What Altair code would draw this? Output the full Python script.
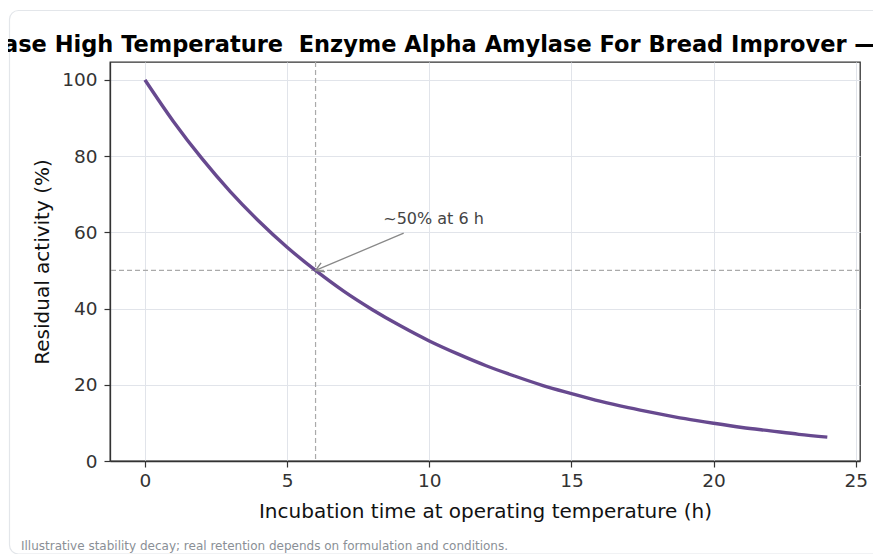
import altair as alt
import pandas as pd

hours = list(range(0, 25))
activity = [100, 89.1, 79.4, 70.7, 63.0, 56.1, 50, 44.5, 39.7, 35.4, 31.5, 28.1, 25, 22.3,
            19.8, 17.7, 15.7, 14, 12.5, 11.1, 9.9, 8.8, 7.9, 7.0, 6.25]

title_text = "ase High Temperature\u00a0 Enzyme Alpha Amylase For Bread Improver \u2014 r"
x_title = "Incubation time at operating temperature (h)"
y_title = "Residual activity (%)"
footnote = "Illustrative stability decay; real retention depends on formulation and conditions."
annot_text = ["~50% at 6 h"]
annot_x = [10.15]
annot_y = [63.5]
arrow_tail_x = [9.1]
arrow_tail_y = [59.8]
marker_x = [6]
marker_y = [50]

FONT = "DejaVu Sans"
df = pd.DataFrame({"t": hours, "a": activity})

xs = alt.Scale(domain=[-1.23, 25.15], nice=False, zero=False)
ys = alt.Scale(domain=[0, 104.7], nice=False, zero=False)

x_axis = alt.Axis(title=x_title, values=[0, 5, 10, 15, 20, 25], grid=True)
y_axis = alt.Axis(title=y_title, values=[0, 20, 40, 60, 80, 100], grid=True)

card = alt.Chart(pd.DataFrame({"k": [0]})).mark_rect(
    fill="transparent", stroke="#e3e6ea", strokeWidth=1.2, cornerRadius=9
).encode(x=alt.value(-100.5), x2=alt.value(820), y=alt.value(-51.5), y2=alt.value(492))

base_axes = alt.Chart(df).mark_line(opacity=0).encode(
    x=alt.X("t:Q", scale=xs, axis=x_axis),
    y=alt.Y("a:Q", scale=ys, axis=y_axis),
)

vline = alt.Chart(pd.DataFrame({"x": marker_x})).mark_rule(
    color="#aaaaaa", strokeDash=[5, 3], strokeWidth=1.2
).encode(x=alt.X("x:Q", scale=xs))
hline = alt.Chart(pd.DataFrame({"y": marker_y})).mark_rule(
    color="#aaaaaa", strokeDash=[5, 3], strokeWidth=1.2
).encode(y=alt.Y("y:Q", scale=ys))

curve = alt.Chart(df).mark_line(color="#67498f", strokeWidth=3.4, interpolate="monotone").encode(
    x=alt.X("t:Q", scale=xs), y=alt.Y("a:Q", scale=ys)
)

arrow_df = pd.DataFrame({"x1": arrow_tail_x, "y1": arrow_tail_y, "x2": marker_x, "y2": marker_y})
arrow_line = alt.Chart(arrow_df).mark_rule(color="#888888", strokeWidth=1.3).encode(
    x=alt.X("x1:Q", scale=xs), y=alt.Y("y1:Q", scale=ys),
    x2="x2:Q", y2="y2:Q",
)
arrow_head = alt.Chart(arrow_df).mark_point(
    shape="M-1,-0.6L0,0L-1,0.6", filled=False, stroke="#888888", strokeWidth=1.4,
    size=260, angle=157, opacity=1
).encode(x=alt.X("x2:Q", scale=xs), y=alt.Y("y2:Q", scale=ys))

annot = alt.Chart(pd.DataFrame({"x": annot_x, "y": annot_y, "s": annot_text})).mark_text(
    font=FONT, fontSize=16, color="#444444", align="center", baseline="middle"
).encode(x=alt.X("x:Q", scale=xs), y=alt.Y("y:Q", scale=ys), text="s:N")

title = alt.Chart(pd.DataFrame({"s": [title_text]})).mark_text(
    font=FONT, fontSize=22.5, fontWeight="bold", color="#000000", align="left", baseline="alphabetic"
).encode(x=alt.value(-107), y=alt.value(-10), text="s:N")

foot = alt.Chart(pd.DataFrame({"s": [footnote]})).mark_text(
    font=FONT, fontSize=12, color="#8a8f96", align="left", baseline="alphabetic"
).encode(x=alt.value(-89), y=alt.value(487.5), text="s:N")

chart = alt.layer(card, base_axes, vline, hline, curve, arrow_line, arrow_head, annot, title, foot).properties(
    width=750, height=399,
    padding={"left": 102, "top": 54, "right": 13, "bottom": 93},
    autosize=alt.AutoSizeParams(type="none"),
    background="white",
).configure_view(
    stroke="#333333", strokeWidth=1.3
).configure_axis(
    labelFont=FONT, titleFont=FONT, labelFontSize=18.5, titleFontSize=20,
    labelColor="#333333", titleColor="#111111", titleFontWeight="normal",
    gridColor="#e1e4ea", gridWidth=1, domainColor="#333333", domainWidth=1.3,
    tickColor="#333333", tickSize=6, tickWidth=1.2,
).configure_axisX(titlePadding=12, labelPadding=4).configure_axisY(titlePadding=9, labelPadding=7)

chart.save("out.html", embed_options={"renderer": "svg", "actions": False})
